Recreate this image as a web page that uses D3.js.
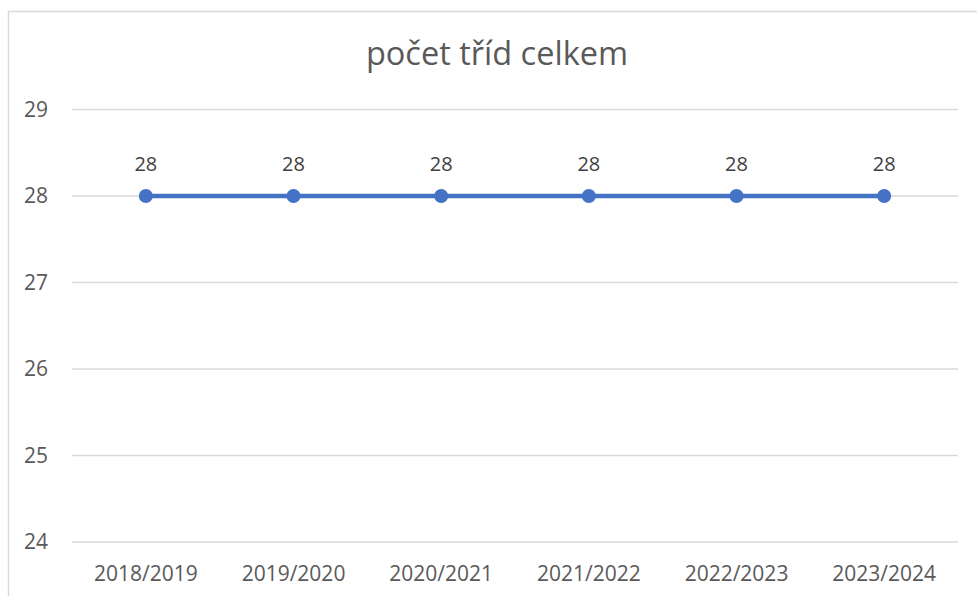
<!DOCTYPE html>
<html>
<head>
<meta charset="utf-8">
<script src="https://cdn.jsdelivr.net/npm/d3@7"></script>
<style>
  body { margin: 0; background: #fff; }
  text { font-family: "Open Sans", sans-serif; }
</style>
</head>
<body>
<div id="chart"></div>
<script>
// data
const years = ["2018/2019", "2019/2020", "2020/2021", "2021/2022", "2022/2023", "2023/2024"];
const values = [28, 28, 28, 28, 28, 28];
const yTicks = [24, 25, 26, 27, 28, 29];
const title = "počet tříd celkem";

const W = 977, H = 596;
const plot = { left: 72, right: 958, top: 109.5, bottom: 542 };

const svg = d3.select("#chart").append("svg")
  .attr("width", W)
  .attr("height", H);

// border of chart area (runs off right and bottom edge)
svg.append("rect")
  .attr("x", 8.5).attr("y", 11.5)
  .attr("width", W + 20).attr("height", H + 20)
  .attr("fill", "#fff")
  .attr("stroke", "#d9d9d9")
  .attr("stroke-width", 1.5);

const x = d3.scaleBand().domain(years).range([plot.left, plot.right]);
const y = d3.scaleLinear().domain([24, 29]).range([plot.bottom, plot.top]);

// gridlines
svg.append("g")
  .selectAll("line")
  .data(yTicks)
  .join("line")
  .attr("x1", plot.left).attr("x2", plot.right)
  .attr("y1", d => y(d)).attr("y2", d => y(d))
  .attr("stroke", "#d9d9d9")
  .attr("stroke-width", 1.3);

// y axis labels
const yAxis = svg.append("g")
  .attr("transform", `translate(${plot.left - 24},0)`)
  .call(d3.axisLeft(y).tickValues(yTicks).tickFormat(d3.format("d")).tickSize(0).tickPadding(0));
yAxis.select(".domain").remove();
yAxis.selectAll("text")
  .attr("fill", "#595959")
  .style("font-size", "21px")
  .style("font-family", "'Open Sans', sans-serif");

// x axis labels
const xAxis = svg.append("g")
  .attr("transform", `translate(0,${plot.bottom + 24})`)
  .call(d3.axisBottom(x).tickSize(0).tickPadding(0));
xAxis.select(".domain").remove();
xAxis.selectAll("text")
  .attr("fill", "#595959")
  .style("font-size", "21px")
  .style("font-family", "'Open Sans', sans-serif");

// title
svg.append("text")
  .attr("x", 497)
  .attr("y", 65)
  .attr("text-anchor", "middle")
  .attr("fill", "#595959")
  .style("font-size", "32.5px")
  .text(title);

const cx = d => x(d) + x.bandwidth() / 2;
const pts = years.map((d, i) => ({ year: d, value: values[i] }));

// line
svg.append("path")
  .datum(pts)
  .attr("fill", "none")
  .attr("stroke", "#4472c4")
  .attr("stroke-width", 4.5)
  .attr("stroke-linecap", "round")
  .attr("d", d3.line().x(d => cx(d.year)).y(d => y(d.value)));

// markers
svg.append("g")
  .selectAll("circle")
  .data(pts)
  .join("circle")
  .attr("cx", d => cx(d.year))
  .attr("cy", d => y(d.value))
  .attr("r", 7)
  .attr("fill", "#4472c4");

// data labels
svg.append("g")
  .selectAll("text")
  .data(pts)
  .join("text")
  .attr("x", d => cx(d.year))
  .attr("y", d => y(d.value) - 25)
  .attr("text-anchor", "middle")
  .attr("fill", "#404040")
  .style("font-size", "20px")
  .text(d => d.value);
</script>
</body>
</html>
